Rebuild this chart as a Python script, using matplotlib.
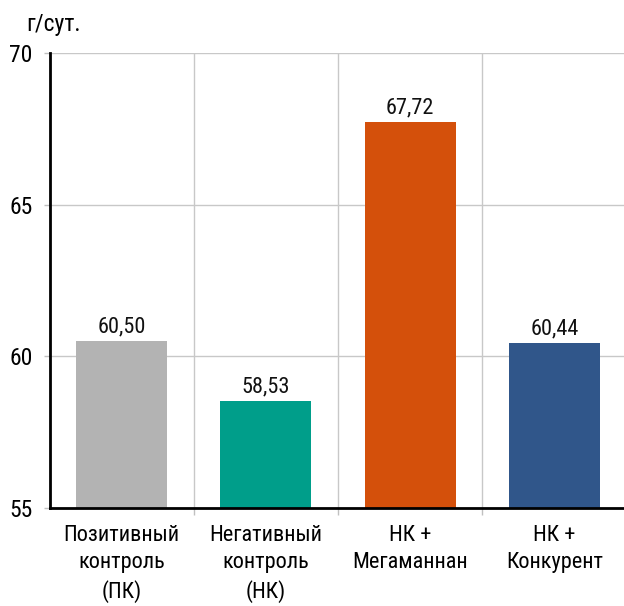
import matplotlib
matplotlib.use("Agg")
import matplotlib.pyplot as plt

categories = ["Позитивный\nконтроль\n(ПК)", "Негативный\nконтроль\n(НК)", "НК +\nМегаманнан", "НК +\nКонкурент"]
values = [60.50, 58.53, 67.72, 60.44]
value_labels = ["60,50", "58,53", "67,72", "60,44"]
colors = ["#b3b3b3", "#009e8a", "#d4500b", "#30568a"]
y_ticks = [55, 60, 65, 70]
unit_label = "г/сут."

plt.rcParams["font.family"] = ["Roboto Condensed", "PT Sans Narrow", "DejaVu Sans"]

fig = plt.figure(figsize=(6.24, 6.06), dpi=100)
ax = fig.add_axes([49.5 / 624, 1 - 508 / 606, 577 / 624, 455 / 606])

x = list(range(len(categories)))
ax.bar(x, values, width=0.63, color=colors, zorder=3)
for xi, v, lab in zip(x, values, value_labels):
    ax.annotate(lab, (xi, v), xytext=(0, 6.3), textcoords="offset points",
                ha="center", va="baseline", fontsize=16, color="#111111", zorder=4)

ax.set_xlim(-0.5, len(categories) - 0.5)
ax.set_ylim(55, 70)
ax.set_yticks(y_ticks)
ax.set_yticklabels([str(t) for t in y_ticks], fontsize=17)

# category separators drawn as minor gridlines
ax.set_xticks(x)
ax.set_xticklabels(categories, fontsize=16, linespacing=1.4)
ax.set_xticks([i + 0.5 for i in x[:-1]], minor=True)
ax.tick_params(axis="x", which="major", length=0, pad=12)
ax.tick_params(axis="x", which="minor", length=5, color="#c0c0c0", width=1)
ax.tick_params(axis="y", length=4.3, color="#c0c0c0", width=1, pad=8)
ax.grid(axis="y", color="#c8c8c8", linewidth=1, zorder=0)
ax.grid(axis="x", which="minor", color="#c8c8c8", linewidth=1, zorder=0)

for side in ["top", "right"]:
    ax.spines[side].set_visible(False)
ax.spines["left"].set_linewidth(2)
ax.spines["bottom"].set_linewidth(2)
ax.spines["left"].set_zorder(5)
ax.spines["bottom"].set_zorder(5)

fig.text(54 / 624, 1 - 25 / 606, unit_label, ha="center", va="center", fontsize=17)

fig.savefig("out.png", dpi=100)
